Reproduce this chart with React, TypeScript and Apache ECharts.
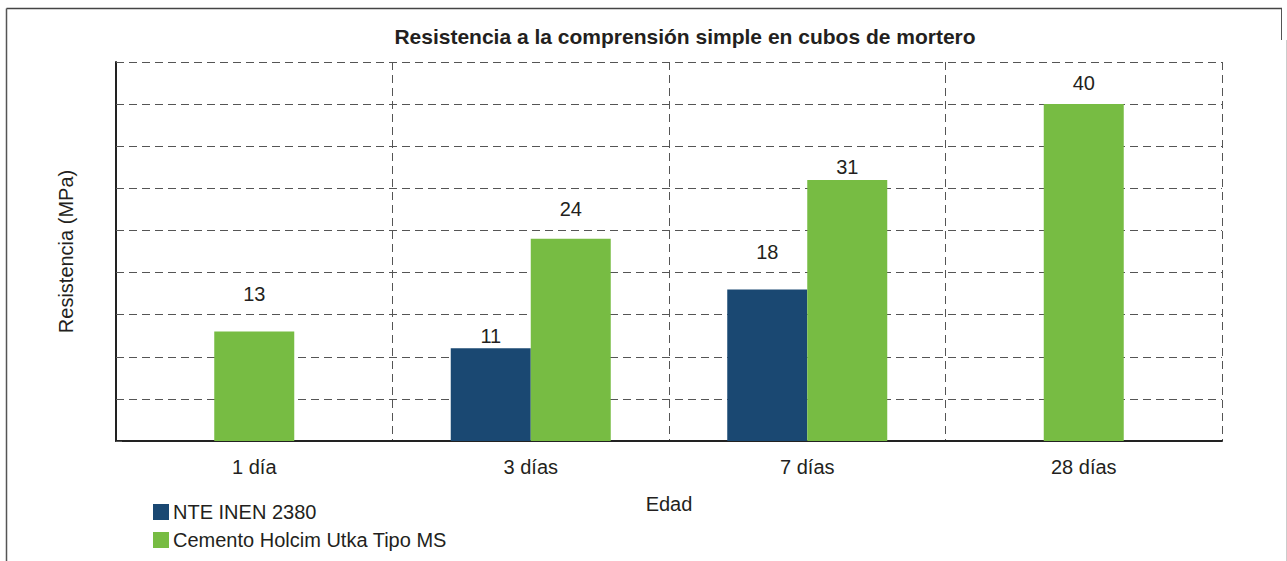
import React, { useEffect, useRef } from "react";
import * as echarts from "echarts";

const categories = ["1 día", "3 días", "7 días", "28 días"];
const nteValues = [null, 11, 18, null];
const holcimPairValues = [null, 24, 31, null];
const holcimSingleValues = [13, null, null, 40];
const seriesNames = ["NTE INEN 2380", "Cemento Holcim Utka Tipo MS"];
const yMin = 0;
const yMax = 45;
const yInterval = 5;

const FONT = "'Liberation Sans', Arial, sans-serif";
const TXT = "#231f20";
const BLUE = "#1a4872";
const GREEN = "#77bc43";

export default function App() {
  const ref = useRef<HTMLDivElement>(null);
  useEffect(() => {
    if (!ref.current) return;
    const chart = echarts.init(ref.current, undefined, { renderer: "svg" });
    const label = {
      show: true,
      position: "top",
      distance: 10,
      color: TXT,
      fontSize: 20,
      fontFamily: FONT,
    };
    // place each value label in the middle of a grid band above the bar top
    const labelLayout = (params: any) => {
      const top = params.rect.y;
      const cx = params.rect.x + params.rect.width / 2;
      let best: number | null = null;
      for (let v = yMin + yInterval / 2; v < yMax; v += yInterval) {
        const py = chart.convertToPixel({ yAxisIndex: 0 }, v) as number;
        if (py <= top - 10 && (best === null || py > best)) best = py;
      }
      if (best === null) return {};
      return { x: cx, y: best, align: "center", verticalAlign: "middle" };
    };
    chart.setOption({
      animation: false,
      backgroundColor: "#ffffff",
      textStyle: { fontFamily: FONT },
      title: {
        text: "Resistencia a la comprensión simple en cubos de mortero",
        left: 680,
        textAlign: "center",
        top: 21,
        textStyle: { fontSize: 21, fontWeight: "bold", color: TXT, fontFamily: FONT },
      },
      legend: {
        orient: "vertical",
        left: 148,
        top: 497,
        itemWidth: 16,
        itemHeight: 16,
        itemGap: 8,
        icon: "rect",
        data: seriesNames,
        textStyle: { fontSize: 20, color: TXT, fontFamily: FONT, padding: [0, 0, 0, -1] },
      },
      graphic: [
        { type: "line", shape: { x1: 6.5, y1: 8.5, x2: 1282, y2: 8.5 }, style: { stroke: "#444", lineWidth: 1.5 } },
        { type: "line", shape: { x1: 6.5, y1: 8.5, x2: 6.5, y2: 561 }, style: { stroke: "#555", lineWidth: 1.5 } },
        { type: "line", shape: { x1: 1281.5, y1: 8.5, x2: 1281.5, y2: 40 }, style: { stroke: "#555", lineWidth: 1 } },
        { type: "line", shape: { x1: 1286.5, y1: 40, x2: 1286.5, y2: 561 }, style: { stroke: "#ccc", lineWidth: 1 } },
      ],
      grid: { left: 116, right: 65, top: 62, bottom: 120, containLabel: false },
      xAxis: [
        {
          type: "category",
          data: categories,
          name: "Edad",
          nameLocation: "middle",
          nameGap: 53,
          nameTextStyle: { fontSize: 20, color: TXT, fontFamily: FONT },
          axisLine: { lineStyle: { color: "#222", width: 2 } },
          axisTick: { show: false },
          axisLabel: { fontSize: 20, color: TXT, fontFamily: FONT, margin: 16 },
          splitLine: { show: true, lineStyle: { color: "#555", type: [8, 5], width: 1 } },
        },
        { type: "category", data: categories, show: false },
      ],
      yAxis: {
        type: "value",
        min: yMin,
        max: yMax,
        interval: yInterval,
        name: "Resistencia (MPa)",
        nameLocation: "middle",
        nameGap: 40,
        nameTextStyle: { fontSize: 20, color: TXT, fontFamily: FONT },
        axisLine: { show: true, lineStyle: { color: "#222", width: 2 } },
        axisTick: { show: true, inside: true, length: 6, lineStyle: { color: "#555" } },
        axisLabel: { show: false },
        splitLine: { show: true, lineStyle: { color: "#555", type: [8, 5], width: 1 } },
      },
      series: [
        {
          name: seriesNames[0],
          type: "bar",
          xAxisIndex: 0,
          data: nteValues,
          barWidth: 80,
          barGap: "0%",
          itemStyle: { color: BLUE },
          label,
          labelLayout,
        },
        {
          name: seriesNames[1],
          type: "bar",
          xAxisIndex: 0,
          data: holcimPairValues,
          barWidth: 80,
          barGap: "0%",
          itemStyle: { color: GREEN },
          label,
          labelLayout,
        },
        {
          name: seriesNames[1],
          type: "bar",
          xAxisIndex: 1,
          data: holcimSingleValues,
          barWidth: 80,
          itemStyle: { color: GREEN },
          label,
          labelLayout,
        },
      ],
    });
    return () => chart.dispose();
  }, []);
  return (
    <div
      ref={ref}
      style={{ position: "fixed", left: 0, top: 0, width: 1287, height: 561 }}
    />
  );
}
